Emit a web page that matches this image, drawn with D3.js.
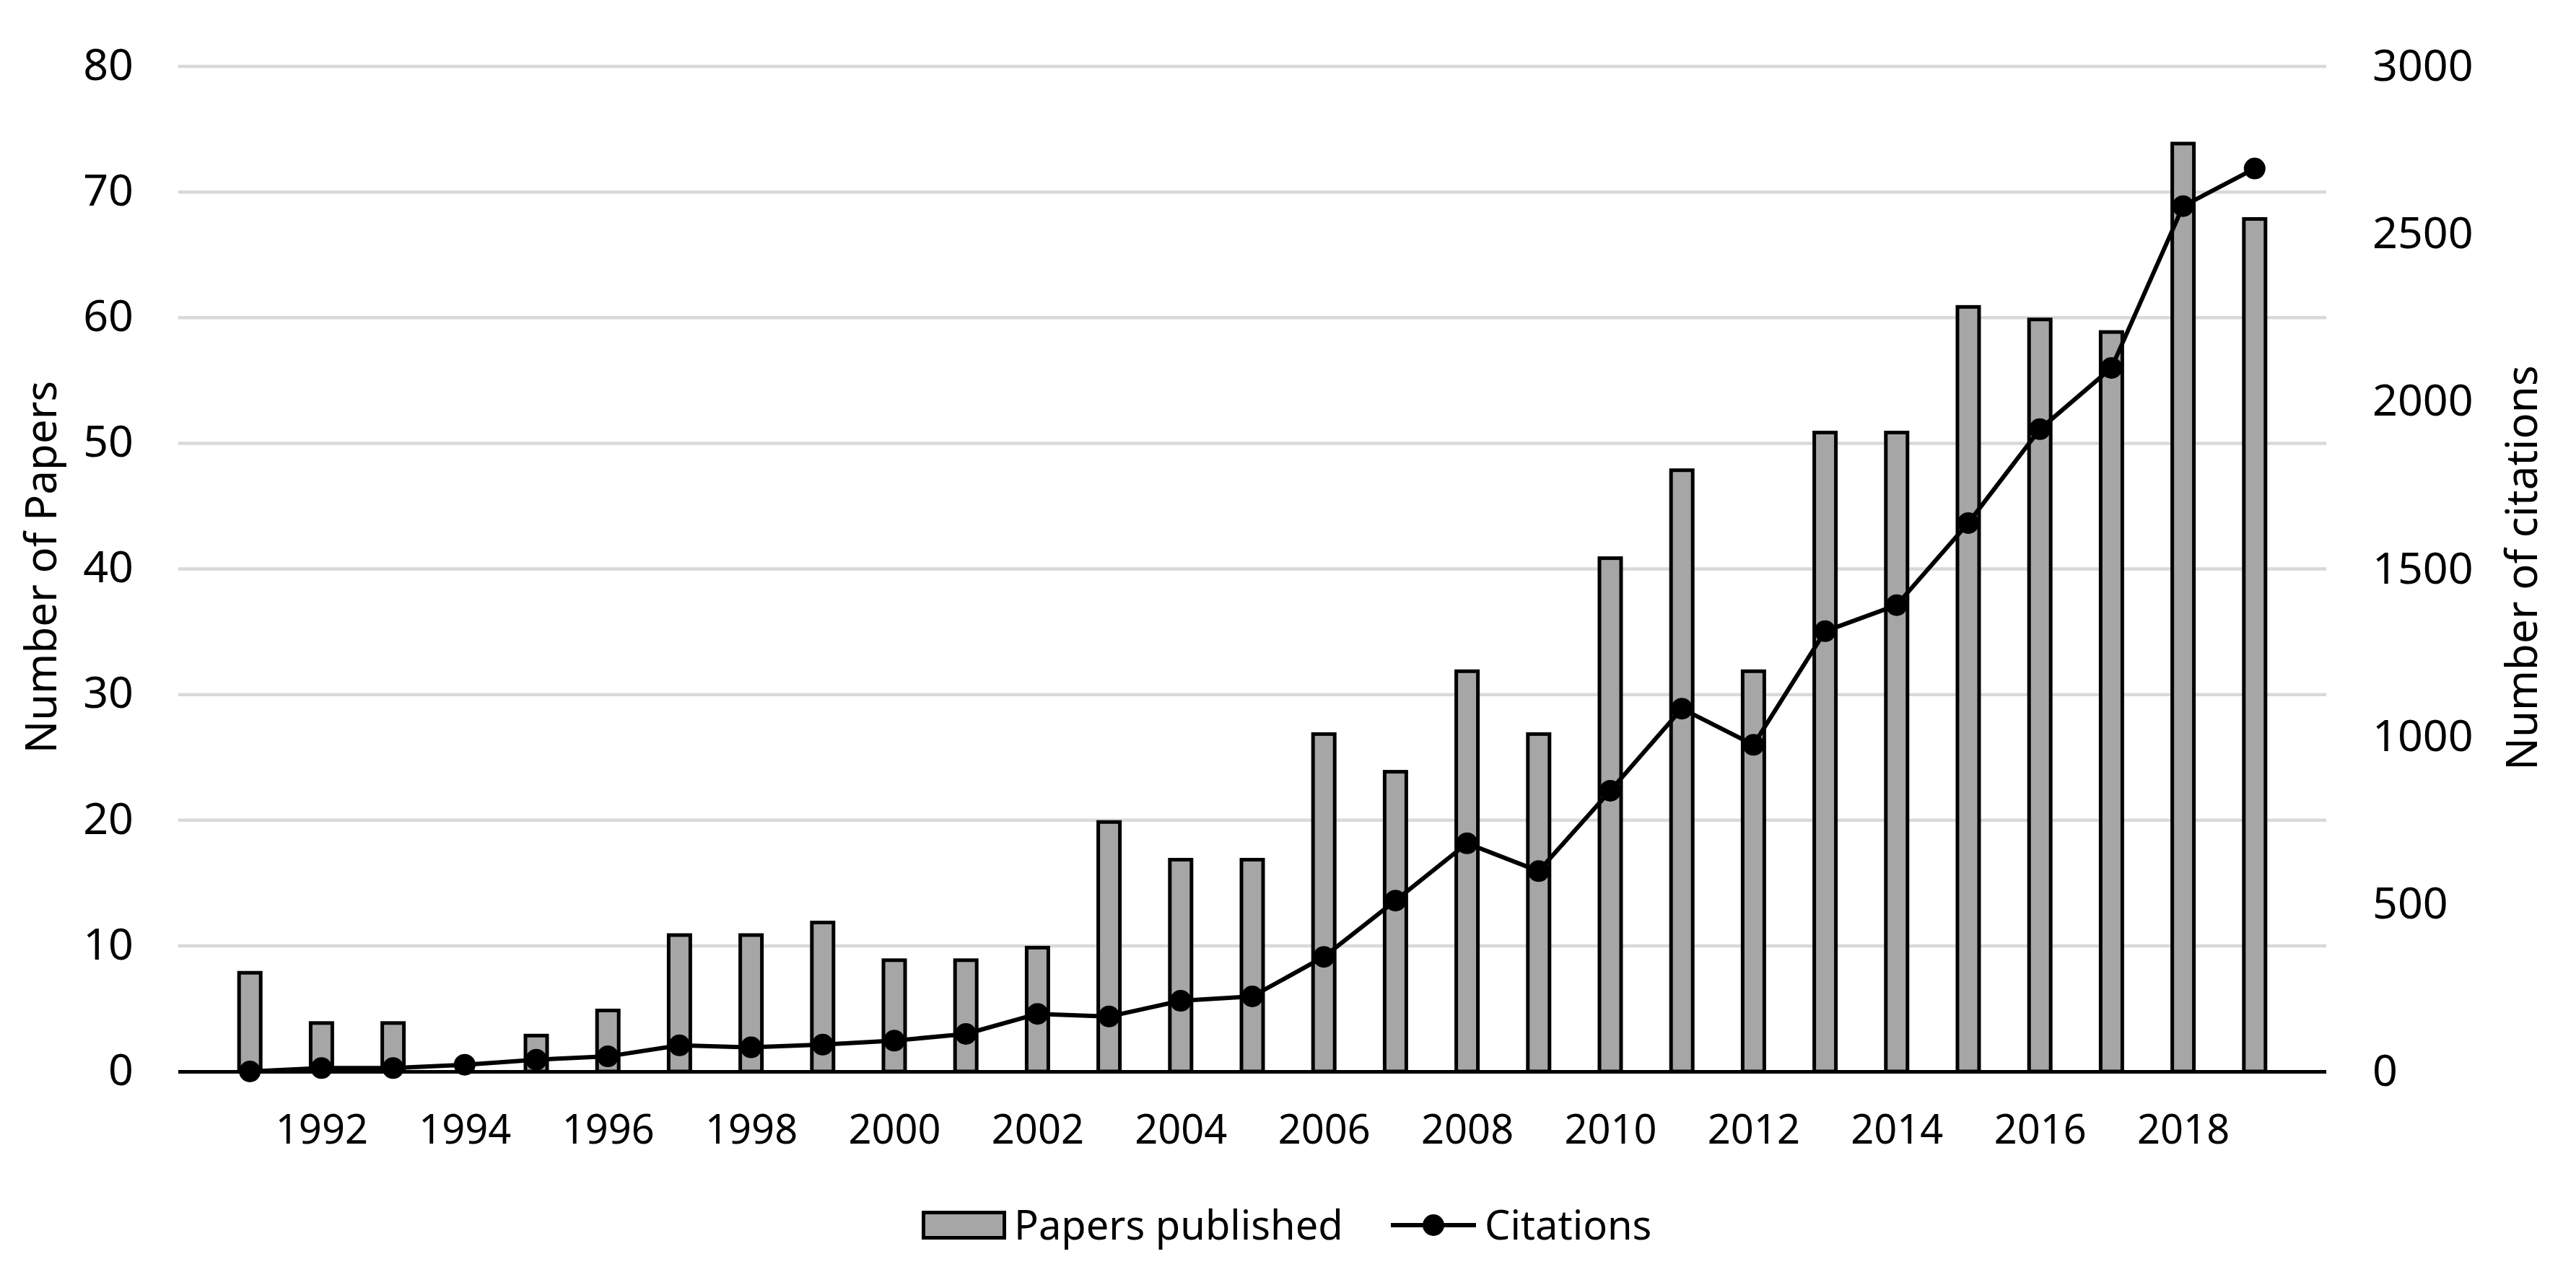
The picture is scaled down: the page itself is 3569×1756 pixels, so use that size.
<!DOCTYPE html>
<html>
<head>
<meta charset="utf-8">
<script src="https://cdn.jsdelivr.net/npm/d3@7/dist/d3.min.js"></script>
<style>
  html, body { margin: 0; padding: 0; background: #ffffff; }
  svg { display: block; }
  text { font-family: "Noto Sans", "Open Sans", sans-serif; fill: #000; }
</style>
</head>
<body>
<svg id="chart" width="3569" height="1756"></svg>
<script>
// ---- data ----
const years = [1991, 1992, 1993, 1994, 1995, 1996, 1997, 1998, 1999, 2000,
               2001, 2002, 2003, 2004, 2005, 2006, 2007, 2008, 2009, 2010,
               2011, 2012, 2013, 2014, 2015, 2016, 2017, 2018, 2019];
const papers = [8, 4, 4, 0, 3, 5, 11, 11, 12, 9,
                9, 10, 20, 17, 17, 27, 24, 32, 27, 41,
                48, 32, 51, 51, 61, 60, 59, 74, 68];
const citations = [0, 10, 10, 20, 35, 45, 78, 72, 80, 92,
                   112, 172, 164, 211, 224, 342, 510, 681, 598, 838,
                   1083, 975, 1314, 1392, 1637, 1917, 2100, 2583, 2695];
const xTickLabels = [1992, 1994, 1996, 1998, 2000, 2002, 2004, 2006, 2008, 2010, 2012, 2014, 2016, 2018];
const leftTicks = [0, 10, 20, 30, 40, 50, 60, 70, 80];
const rightTicks = [0, 500, 1000, 1500, 2000, 2500, 3000];
const leftTitle = "Number of Papers";
const rightTitle = "Number of citations";
const seriesNames = ["Papers published", "Citations"];

// ---- layout ----
const plot = { left: 247, right: 3223, top: 92, bottom: 1485 };
const svg = d3.select("#chart");

const x = d3.scalePoint().domain(years).range([plot.left, plot.right]).padding(1);
const yL = d3.scaleLinear().domain([0, 80]).range([plot.bottom, plot.top]);
const yR = d3.scaleLinear().domain([0, 3000]).range([plot.bottom, plot.top]);

// gridlines
svg.append("g")
  .selectAll("line")
  .data(leftTicks.filter(d => d > 0))
  .join("line")
  .attr("x1", plot.left).attr("x2", plot.right)
  .attr("y1", d => yL(d)).attr("y2", d => yL(d))
  .attr("stroke", "#d9d9d9").attr("stroke-width", 4.5);

// left axis labels
const gL = svg.append("g")
  .attr("transform", `translate(185,0)`)
  .call(d3.axisLeft(yL).tickValues(leftTicks).tickFormat(d3.format("d")).tickSize(0).tickPadding(0));
gL.select(".domain").remove();
gL.selectAll("text").attr("font-size", 61).attr("font-family", "Noto Sans").attr("fill", "#000")
  .attr("dy", "0.30em").attr("text-anchor", "end");

// right axis labels
const gR = svg.append("g")
  .attr("transform", `translate(3287,0)`)
  .call(d3.axisRight(yR).tickValues(rightTicks).tickFormat(d3.format("d")).tickSize(0).tickPadding(0));
gR.select(".domain").remove();
gR.selectAll("text").attr("font-size", 61).attr("font-family", "Noto Sans").attr("fill", "#000")
  .attr("dy", "0.32em").attr("text-anchor", "start");

// x axis labels
const gX = svg.append("g")
  .attr("transform", `translate(0,${plot.bottom})`)
  .call(d3.axisBottom(x).tickValues(xTickLabels).tickFormat(d3.format("d")).tickSize(0).tickPadding(0));
gX.select(".domain").remove();
gX.selectAll("text").attr("font-size", 56).attr("font-family", "Noto Sans").attr("fill", "#000")
  .attr("dy", "0").attr("y", 100);

// bars
const barW = 30, barStroke = 5;
svg.append("g")
  .selectAll("rect")
  .data(years.map((yr, i) => ({ yr, v: papers[i] })).filter(d => d.v > 0))
  .join("rect")
  .attr("x", d => x(d.yr) - barW / 2)
  .attr("y", d => yL(d.v) + barStroke / 2)
  .attr("width", barW)
  .attr("height", d => yL(0) - yL(d.v) - barStroke / 2)
  .attr("fill", "#a6a6a6")
  .attr("stroke", "#000")
  .attr("stroke-width", barStroke);

// x axis line
svg.append("line")
  .attr("x1", plot.left).attr("x2", plot.right)
  .attr("y1", plot.bottom + 0.5).attr("y2", plot.bottom + 0.5)
  .attr("stroke", "#000").attr("stroke-width", 5);

// citations line
const pts = years.map((yr, i) => ({ yr, v: citations[i] }));
svg.append("path")
  .datum(pts)
  .attr("fill", "none")
  .attr("stroke", "#000")
  .attr("stroke-width", 6)
  .attr("stroke-linejoin", "round")
  .attr("d", d3.line().x(d => x(d.yr)).y(d => yR(d.v)));
svg.append("g")
  .selectAll("circle")
  .data(pts)
  .join("circle")
  .attr("cx", d => x(d.yr)).attr("cy", d => yR(d.v))
  .attr("r", 15).attr("fill", "#000");

// axis titles
svg.append("text")
  .attr("transform", `translate(78,786) rotate(-90)`)
  .attr("text-anchor", "middle")
  .attr("font-size", 60)
  .text(leftTitle);
svg.append("text")
  .attr("transform", `translate(3515,787) rotate(-90)`)
  .attr("text-anchor", "middle")
  .attr("font-size", 60)
  .text(rightTitle);

// legend
const lg = svg.append("g");
lg.append("rect")
  .attr("x", 1279.5).attr("y", 1680.5).attr("width", 112).attr("height", 35)
  .attr("fill", "#a6a6a6").attr("stroke", "#000").attr("stroke-width", 5);
lg.append("text").attr("x", 1405).attr("y", 1718).attr("font-size", 56).text(seriesNames[0]);
lg.append("line")
  .attr("x1", 1927).attr("x2", 2045).attr("y1", 1698).attr("y2", 1698)
  .attr("stroke", "#000").attr("stroke-width", 6);
lg.append("circle").attr("cx", 1986).attr("cy", 1698).attr("r", 15).attr("fill", "#000");
lg.append("text").attr("x", 2057).attr("y", 1718).attr("font-size", 56).text(seriesNames[1]);
</script>
</body>
</html>
